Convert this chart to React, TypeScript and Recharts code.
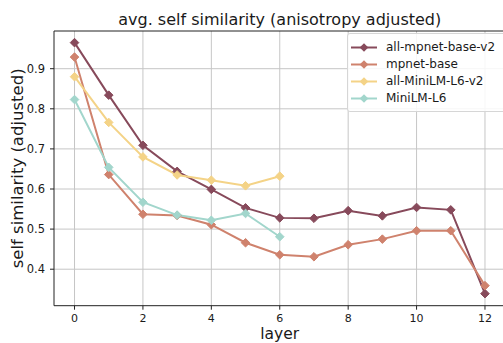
import React from "react";
import {
  LineChart,
  Line,
  XAxis,
  YAxis,
  CartesianGrid,
  ReferenceLine,
  Label,
} from "recharts";

// layer index on the x axis
const layers = [0, 1, 2, 3, 4, 5, 6, 7, 8, 9, 10, 11, 12];

// avg. self similarity per layer for each model (null = model has no such layer)
const allMpnetBaseV2 = [0.965, 0.834, 0.709, 0.644, 0.599, 0.553, 0.528, 0.527, 0.546, 0.533, 0.554, 0.548, 0.339];
const mpnetBase = [0.929, 0.636, 0.537, 0.534, 0.511, 0.466, 0.436, 0.431, 0.461, 0.475, 0.496, 0.496, 0.359];
const allMiniLML6V2 = [0.88, 0.766, 0.68, 0.635, 0.622, 0.608, 0.632, null, null, null, null, null, null];
const miniLML6 = [0.823, 0.654, 0.567, 0.535, 0.522, 0.539, 0.481, null, null, null, null, null, null];

const xTicks = [0, 2, 4, 6, 8, 10, 12];
const yTicks = [0.4, 0.5, 0.6, 0.7, 0.8, 0.9];

const seriesDefs = [
  { key: "allMpnetBaseV2", name: "all-mpnet-base-v2", color: "#874A5B", values: allMpnetBaseV2 },
  { key: "mpnetBase", name: "mpnet-base", color: "#CF826D", values: mpnetBase },
  { key: "allMiniLML6V2", name: "all-MiniLM-L6-v2", color: "#F4D387", values: allMiniLML6V2 },
  { key: "miniLML6", name: "MiniLM-L6", color: "#A2D6CC", values: miniLML6 },
];

const data = layers.map((layer, i) => {
  const row: Record<string, number | null> = { layer };
  seriesDefs.forEach((s) => {
    row[s.key] = s.values[i];
  });
  return row;
});

const FONT = "DejaVu Sans, sans-serif";

const Diamond = (props: any) => {
  const { cx, cy, fill, value } = props;
  if (value == null || cx == null || cy == null) return null;
  const r = 4.3;
  return (
    <polygon
      points={`${cx},${cy - r} ${cx + r},${cy} ${cx},${cy + r} ${cx - r},${cy}`}
      fill={fill}
      stroke={fill}
      strokeWidth={1}
    />
  );
};

const LegendBox = () => (
  <div
    style={{
      position: "absolute",
      left: 347,
      top: 33,
      width: 170,
      height: 79,
      boxSizing: "border-box",
      border: "1px solid #d6d6d6",
      borderRadius: 3,
      background: "rgba(255,255,255,0.85)",
      paddingTop: 5,
      fontFamily: FONT,
      fontSize: 12,
      color: "#1a1a1a",
    }}
  >
    {seriesDefs.map((s) => (
      <div key={s.key} style={{ display: "flex", alignItems: "center", height: 17 }}>
        <svg width={38} height={17} style={{ flex: "none" }}>
          <line x1={3} y1={8.5} x2={29} y2={8.5} stroke={s.color} strokeWidth={2} />
          <polygon points="16,4.2 20.3,8.5 16,12.8 11.7,8.5" fill={s.color} />
        </svg>
        <span style={{ lineHeight: "17px", whiteSpace: "nowrap" }}>{s.name}</span>
      </div>
    ))}
  </div>
);

const YTitle = (props: any) => {
  const vb = props.viewBox || {};
  const y = (vb.y ?? 0) + (vb.height ?? 0) / 2;
  const x = 17.5;
  return (
    <text
      x={x}
      y={y}
      transform={`rotate(-90, ${x}, ${y})`}
      textAnchor="middle"
      dominantBaseline="central"
      fontFamily={FONT}
      fontSize={16.5}
      fill="#1a1a1a"
    >
      self similarity (adjusted)
    </text>
  );
};

export default function App() {
  return (
    <div style={{ position: "absolute", left: 0, top: 0, width: 503, height: 343, overflow: "hidden", background: "#fff" }}>
      <LineChart
        width={520}
        height={343}
        data={data}
        margin={{ top: 31, right: 14.5, bottom: 0, left: 0 }}
      >
        <CartesianGrid stroke="#c6c6c6" strokeWidth={1} horizontalValues={yTicks} verticalValues={xTicks} />
        <XAxis
          dataKey="layer"
          type="number"
          domain={[-0.6, 12.6]}
          ticks={xTicks}
          allowDataOverflow
          height={37.3}
          tickSize={4}
          tickMargin={4}
          stroke="#222"
          tick={{ fontFamily: FONT, fontSize: 11, fill: "#1a1a1a" }}
        >
          <Label value="layer" position="insideBottom" offset={3.8} fontFamily={FONT} fontSize={15.5} fill="#1a1a1a" />
        </XAxis>
        <YAxis
          type="number"
          domain={[0.309, 0.994]}
          ticks={yTicks}
          allowDataOverflow
          width={54}
          tickSize={4}
          tickMargin={5}
          stroke="#222"
          tickFormatter={(v: number) => v.toFixed(1)}
          tick={{ fontFamily: FONT, fontSize: 11.5, fill: "#1a1a1a" }}
        >
          <Label content={<YTitle />} />
        </YAxis>
        <ReferenceLine y={0.994} stroke="#222" strokeWidth={1}>
          <Label
            value="avg. self similarity (anisotropy adjusted)"
            position="top"
            offset={6}
            fontFamily={FONT}
            fontSize={16}
            fill="#1a1a1a"
          />
        </ReferenceLine>
        {seriesDefs.map((s) => (
          <Line
            key={s.key}
            dataKey={s.key}
            name={s.name}
            stroke={s.color}
            strokeWidth={2}
            dot={<Diamond fill={s.color} />}
            activeDot={false}
            isAnimationActive={false}
            connectNulls={false}
          />
        ))}
      </LineChart>
      <LegendBox />
    </div>
  );
}
